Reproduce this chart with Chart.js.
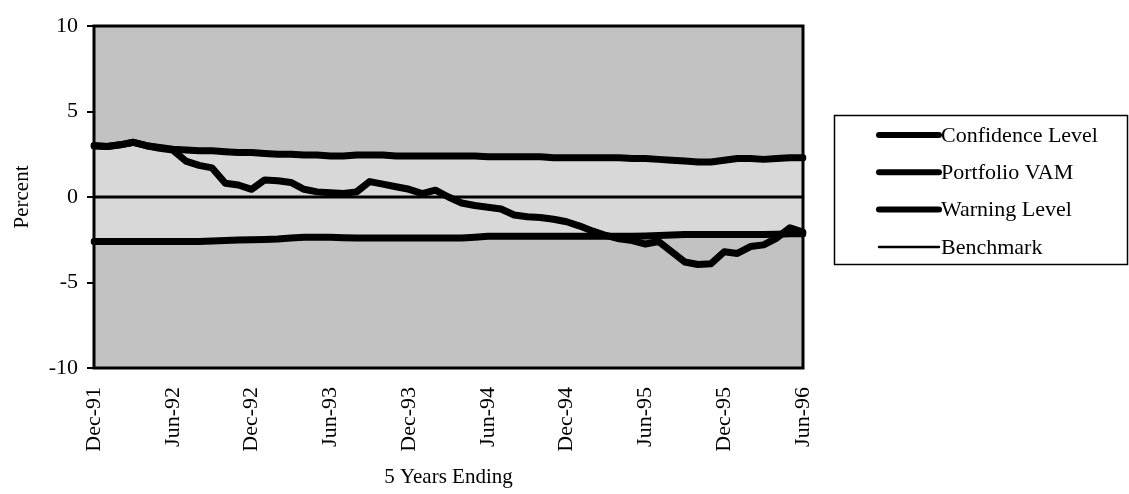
<!DOCTYPE html>
<html>
<head>
<meta charset="utf-8">
<script src="https://cdn.jsdelivr.net/npm/chart.js@4/dist/chart.umd.min.js"></script>
<style>
  html, body { margin: 0; padding: 0; background: #ffffff; }
  canvas { display: block; }
</style>
</head>
<body>
<canvas id="vam" width="1129" height="494"></canvas>
<script>
// Monthly periods, five-year windows ending Dec-91 through Jun-96
const months = [
  'Dec-91',
  'Jan-92','Feb-92','Mar-92','Apr-92','May-92','Jun-92','Jul-92','Aug-92','Sep-92','Oct-92','Nov-92','Dec-92',
  'Jan-93','Feb-93','Mar-93','Apr-93','May-93','Jun-93','Jul-93','Aug-93','Sep-93','Oct-93','Nov-93','Dec-93',
  'Jan-94','Feb-94','Mar-94','Apr-94','May-94','Jun-94','Jul-94','Aug-94','Sep-94','Oct-94','Nov-94','Dec-94',
  'Jan-95','Feb-95','Mar-95','Apr-95','May-95','Jun-95','Jul-95','Aug-95','Sep-95','Oct-95','Nov-95','Dec-95',
  'Jan-96','Feb-96','Mar-96','Apr-96','May-96','Jun-96'
];

// Upper band (percent)
const confidenceLevel = [
  3.0, 2.95, 3.05, 3.2, 3.0, 2.9, 2.8, 2.75, 2.7, 2.7, 2.65, 2.6, 2.6,
  2.55, 2.5, 2.5, 2.45, 2.45, 2.4, 2.4, 2.45, 2.45, 2.45, 2.4, 2.4,
  2.4, 2.4, 2.4, 2.4, 2.4, 2.35, 2.35, 2.35, 2.35, 2.35, 2.3, 2.3,
  2.3, 2.3, 2.3, 2.3, 2.25, 2.25, 2.2, 2.15, 2.1, 2.05, 2.05, 2.15,
  2.25, 2.25, 2.2, 2.25, 2.3, 2.3
];

// Cumulative value added of the portfolio (percent)
const portfolioVAM = [
  3.0, 2.95, 3.05, 3.2, 3.0, 2.85, 2.75, 2.1, 1.85, 1.7, 0.8, 0.7, 0.45,
  1.0, 0.95, 0.85, 0.45, 0.3, 0.25, 0.2, 0.3, 0.9, 0.75, 0.6, 0.45,
  0.2, 0.4, 0.0, -0.35, -0.5, -0.6, -0.7, -1.05, -1.15, -1.2, -1.3, -1.45,
  -1.7, -2.0, -2.25, -2.45, -2.55, -2.75, -2.6, -3.2, -3.8, -3.95, -3.9, -3.2,
  -3.3, -2.9, -2.8, -2.4, -1.8, -2.05
];

// Lower band (percent)
const warningLevel = [
  -2.6, -2.6, -2.6, -2.6, -2.6, -2.6, -2.6, -2.6, -2.6, -2.58, -2.55, -2.52, -2.5,
  -2.48, -2.45, -2.4, -2.35, -2.35, -2.35, -2.38, -2.4, -2.4, -2.4, -2.4, -2.4,
  -2.4, -2.4, -2.4, -2.4, -2.35, -2.3, -2.3, -2.3, -2.3, -2.3, -2.3, -2.3,
  -2.3, -2.3, -2.3, -2.3, -2.3, -2.28, -2.25, -2.22, -2.2, -2.2, -2.2, -2.2,
  -2.2, -2.2, -2.2, -2.18, -2.15, -2.15
];

// Benchmark reference line
const benchmark = months.map(() => 0);

// Y axis range and step
const yTicks = { min: -10, max: 10, step: 5 };

const SERIF = '"Liberation Serif", "Times New Roman", serif';
const OUTER_SHADE = '#c2c2c2';
const INNER_SHADE = '#d8d8d8';

// Shaded plotting area
const plotShade = {
  id: 'plotShade',
  beforeDraw(chart) {
    const { ctx, chartArea: a } = chart;
    ctx.save();
    ctx.fillStyle = OUTER_SHADE;
    ctx.fillRect(a.left, a.top, a.right - a.left, a.bottom - a.top);
    ctx.restore();
  }
};

// Heavy frame round the plotting area
const plotFrame = {
  id: 'plotFrame',
  afterDraw(chart) {
    const { ctx, chartArea: a } = chart;
    ctx.save();
    ctx.strokeStyle = '#000';
    ctx.lineWidth = 3;
    ctx.strokeRect(a.left, a.top, a.right - a.left, a.bottom - a.top);
    ctx.restore();
  }
};

// Boxed legend to the right of the plot
const boxedLegend = {
  id: 'boxedLegend',
  afterDraw(chart) {
    const { ctx } = chart;
    const box = { x: 834, y: 115, w: 293, h: 149 };
    ctx.save();
    ctx.strokeStyle = '#000';
    ctx.lineWidth = 1.5;
    ctx.strokeRect(box.x + 0.5, box.y + 0.5, box.w, box.h);
    ctx.font = '22px ' + SERIF;
    ctx.textBaseline = 'middle';
    ctx.textAlign = 'left';
    ctx.fillStyle = '#000';
    chart.data.datasets.forEach((ds, i) => {
      const y = 135 + i * 37.3;
      ctx.beginPath();
      ctx.lineWidth = ds.legendWidth;
      ctx.lineCap = 'round';
      ctx.strokeStyle = ds.borderColor;
      ctx.moveTo(879, y);
      ctx.lineTo(939, y);
      ctx.stroke();
      ctx.fillText(ds.label, 941, y + 1);
    });
    ctx.restore();
  }
};

const lineStyle = {
  borderColor: '#000',
  pointRadius: 0,
  pointHoverRadius: 0,
  tension: 0,
  borderJoinStyle: 'round',
  borderCapStyle: 'round'
};

new Chart(document.getElementById('vam'), {
  type: 'line',
  data: {
    labels: months,
    datasets: [
      { ...lineStyle, label: 'Confidence Level', data: confidenceLevel, borderWidth: 7, legendWidth: 6,
        fill: { target: 2 }, backgroundColor: INNER_SHADE },
      { ...lineStyle, label: 'Portfolio VAM', data: portfolioVAM, borderWidth: 7, legendWidth: 6, fill: false },
      { ...lineStyle, label: 'Warning Level', data: warningLevel, borderWidth: 7, legendWidth: 6, fill: false },
      { ...lineStyle, label: 'Benchmark', data: benchmark, borderWidth: 3, legendWidth: 2.5, fill: false }
    ]
  },
  options: {
    responsive: false,
    animation: false,
    devicePixelRatio: 1,
    layout: { padding: { top: 26, right: 326, bottom: 0, left: 0 } },
    plugins: {
      legend: { display: false },
      tooltip: { enabled: false },
      filler: { propagate: false, drawTime: 'beforeDatasetsDraw' }
    },
    scales: {
      x: {
        type: 'category',
        offset: false,
        grid: { display: false, drawTicks: false },
        border: { display: false },
        ticks: {
          autoSkip: false,
          minRotation: 90,
          maxRotation: 90,
          padding: 19,
          color: '#000',
          font: { family: SERIF, size: 22 },
          callback(value, index) { return index % 6 === 0 ? months[index] : ''; }
        },
        title: {
          display: true,
          text: '5 Years Ending',
          color: '#000',
          font: { family: SERIF, size: 21 },
          padding: { top: 0, bottom: 4 }
        },
        afterFit(scale) { scale.height = 126; }
      },
      y: {
        min: yTicks.min,
        max: yTicks.max,
        grid: { drawOnChartArea: false, drawTicks: true, tickLength: 7, color: '#000', lineWidth: 2 },
        border: { display: false },
        ticks: {
          stepSize: yTicks.step,
          padding: 9,
          color: '#000',
          font: { family: SERIF, size: 22 }
        },
        title: {
          display: true,
          text: 'Percent',
          color: '#000',
          font: { family: SERIF, size: 21 },
          padding: { top: 10, bottom: 0 }
        },
        afterFit(scale) { scale.width = 94; }
      }
    }
  },
  plugins: [plotShade, plotFrame, boxedLegend]
});
</script>
</body>
</html>
